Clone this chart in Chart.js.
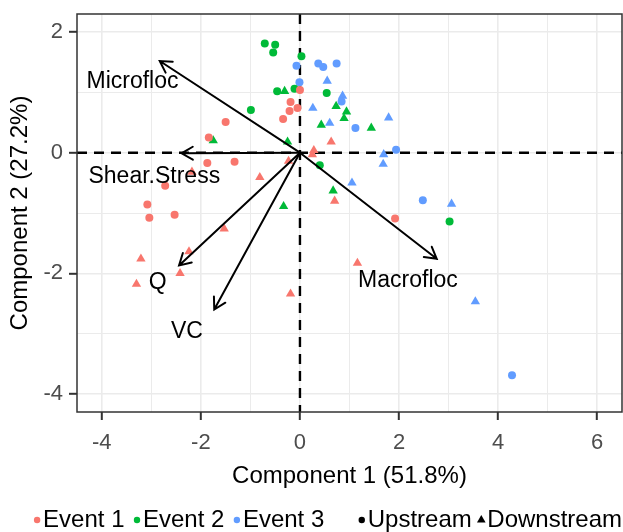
<!DOCTYPE html>
<html>
<head>
<meta charset="utf-8">
<title>PCA biplot</title>
<script src="https://cdn.jsdelivr.net/npm/chart.js@4.4.1/dist/chart.umd.min.js"></script>
<style>
  html, body { margin: 0; padding: 0; background: #fff; }
  canvas { display: block; }
</style>
</head>
<body>
<canvas id="biplot" width="623" height="532"></canvas>
<script>
// PCA scores [component 1, component 2] per event and sampling site
const event1Up = [
  [0.00, 1.04], [-0.19, 0.84], [-0.05, 0.74], [-0.21, 0.69], [-0.34, 0.56],
  [-1.50, 0.51], [-1.84, 0.25], [-1.87, -0.17], [-1.32, -0.15], [-2.72, -0.55],
  [-3.08, -0.86], [-3.04, -1.08], [-2.53, -1.03], [1.92, -1.09]
];
const event1Down = [
  [0.63, 0.18], [0.28, 0.04], [0.25, -0.03], [-0.23, -0.14], [-2.18, -0.32],
  [-0.81, -0.41], [0.70, -0.80], [1.16, -1.83], [-1.53, -1.26], [-2.24, -1.64],
  [-3.21, -1.76], [-2.42, -2.00], [-3.30, -2.18], [-0.19, -2.34]
];
const event2Up = [
  [-0.71, 1.81], [-0.50, 1.79], [-0.54, 1.66], [0.03, 1.60], [-0.46, 1.02],
  [-0.11, 1.06], [0.54, 0.99], [-0.99, 0.71], [0.40, -0.21], [3.02, -1.14]
];
const event2Down = [
  [-0.31, 1.02], [0.73, 0.77], [0.94, 0.68], [0.89, 0.57], [0.43, 0.46],
  [1.44, 0.41], [-1.75, 0.20], [-0.25, 0.18], [0.67, -0.63], [-0.33, -0.89]
];
const event3Up = [
  [-0.07, 1.44], [0.37, 1.48], [0.47, 1.42], [0.74, 1.48], [-0.01, 1.17],
  [0.84, 0.85], [1.12, 0.41], [1.94, 0.05], [2.48, -0.79], [4.28, -3.69]
];
const event3Down = [
  [0.55, 1.19], [0.86, 0.94], [0.26, 0.74], [0.60, 0.49], [1.79, 0.58],
  [1.69, -0.03], [1.68, -0.19], [1.05, -0.50], [3.06, -0.85], [3.54, -2.47]
];

// variable loadings: arrow tips and label anchors
const loadingNames = ['Microfloc', 'Shear.Stress', 'Q', 'VC', 'Macrofloc'];
const loadingTips = [[-2.83, 1.52], [-2.39, -0.01], [-2.44, -1.87], [-1.73, -2.60], [2.76, -1.76]];
const loadingLabels = [[-3.38, 1.17], [-2.94, -0.40], [-2.87, -2.16], [-2.28, -2.96], [2.18, -2.12]];

const xTicks = [-4, -2, 0, 2, 4, 6];
const yTicks = [-4, -2, 0, 2];
const xGrid = [-4, -3, -2, -1, 0, 1, 2, 3, 4, 5, 6];
const yGrid = [-4, -3, -2, -1, 0, 1, 2];
const eventNames = ['Event 1', 'Event 2', 'Event 3'];
const eventColors = ['#F8766D', '#00BA38', '#619CFF'];
const siteNames = ['Upstream', 'Downstream'];

const fontFamily = '"Liberation Sans", Arial, Helvetica, sans-serif';
Chart.defaults.font.family = fontFamily;

const groups = [
  { event: 0, site: 0, data: event1Up },
  { event: 0, site: 1, data: event1Down },
  { event: 1, site: 0, data: event2Up },
  { event: 1, site: 1, data: event2Down },
  { event: 2, site: 0, data: event3Up },
  { event: 2, site: 1, data: event3Down }
];

// dashed reference lines through the origin
const zeroLines = {
  id: 'zeroLines',
  beforeDatasetsDraw(chart) {
    const { ctx, chartArea, scales } = chart;
    const x0 = scales.x.getPixelForValue(0);
    const y0 = scales.y.getPixelForValue(0);
    ctx.save();
    ctx.strokeStyle = '#000';
    ctx.lineWidth = 2.4;
    ctx.setLineDash([10, 7]);
    ctx.beginPath();
    ctx.moveTo(chartArea.left, y0);
    ctx.lineTo(chartArea.right, y0);
    ctx.moveTo(x0, chartArea.top);
    ctx.lineTo(x0, chartArea.bottom);
    ctx.stroke();
    ctx.restore();
  }
};

// loading arrows with open heads, then the panel frame
const loadingArrows = {
  id: 'loadingArrows',
  afterDatasetsDraw(chart) {
    const { ctx, chartArea, scales } = chart;
    const px = v => scales.x.getPixelForValue(v);
    const py = v => scales.y.getPixelForValue(v);
    const ox = px(0), oy = py(0);
    const head = 13;
    ctx.save();
    ctx.strokeStyle = '#000';
    ctx.lineWidth = 2;
    ctx.lineCap = 'round';
    loadingTips.forEach(([tx, ty]) => {
      const ex = px(tx), ey = py(ty);
      const a = Math.atan2(ey - oy, ex - ox);
      ctx.beginPath();
      ctx.moveTo(ox, oy);
      ctx.lineTo(ex, ey);
      ctx.moveTo(ex + head * Math.cos(a + Math.PI - Math.PI / 6), ey + head * Math.sin(a + Math.PI - Math.PI / 6));
      ctx.lineTo(ex, ey);
      ctx.lineTo(ex + head * Math.cos(a + Math.PI + Math.PI / 6), ey + head * Math.sin(a + Math.PI + Math.PI / 6));
      ctx.stroke();
    });
    ctx.fillStyle = '#000';
    ctx.font = '23px ' + fontFamily;
    ctx.textAlign = 'center';
    ctx.textBaseline = 'middle';
    loadingLabels.forEach(([lx, ly], i) => {
      ctx.fillText(loadingNames[i], px(lx), py(ly));
    });
    ctx.strokeStyle = '#333';
    ctx.lineWidth = 1.5;
    ctx.strokeRect(chartArea.left, chartArea.top, chartArea.right - chartArea.left, chartArea.bottom - chartArea.top);
    ctx.restore();
  }
};

// single-row legend: colour by event, shape by site
const legendRow = {
  id: 'legendRow',
  afterDraw(chart) {
    const { ctx, chartArea } = chart;
    const items = eventNames.map((name, i) => ({ text: name, color: eventColors[i], shape: 'circle', gap: 9 }))
      .concat(siteNames.map((name, i) => ({
        text: name, color: '#000', shape: i === 0 ? 'circle' : 'triangle', gap: i === 0 ? 34 : 6
      })));
    ctx.save();
    ctx.font = '24px ' + fontFamily;
    ctx.textBaseline = 'middle';
    ctx.textAlign = 'left';
    const markerToText = 6;
    let total = 0;
    items.forEach((it, i) => {
      it.w = ctx.measureText(it.text).width;
      total += (i ? it.gap : 0) + 3.5 + markerToText + it.w;
    });
    let x = chartArea.right - total;
    const y = chart.height - 12;
    items.forEach((it, i) => {
      if (i) x += it.gap;
      const cx = x + 3.5;
      ctx.fillStyle = it.color;
      ctx.beginPath();
      if (it.shape === 'circle') {
        ctx.arc(cx, y, 3.2, 0, Math.PI * 2);
      } else {
        ctx.moveTo(cx, y - 5);
        ctx.lineTo(cx + 4.3, y + 2.5);
        ctx.lineTo(cx - 4.3, y + 2.5);
        ctx.closePath();
      }
      ctx.fill();
      ctx.fillStyle = '#000';
      ctx.fillText(it.text, cx + markerToText, y);
      x = cx + markerToText + it.w;
    });
    ctx.restore();
  }
};

const gridColor = '#EBEBEB';
const gridWidth = c => c.tick.value % 2 === 0 ? 1.6 : 1;

new Chart(document.getElementById('biplot'), {
  type: 'scatter',
  data: {
    datasets: groups.map(g => ({
      label: eventNames[g.event] + ' ' + siteNames[g.site],
      data: g.data.map(([x, y]) => ({ x, y })),
      backgroundColor: eventColors[g.event],
      borderColor: eventColors[g.event],
      borderWidth: 0,
      pointStyle: g.site === 0 ? 'circle' : 'triangle',
      pointRadius: g.site === 0 ? 4 : 5.4
    }))
  },
  options: {
    responsive: false,
    animation: false,
    events: [],
    layout: { autoPadding: false, padding: { top: 14, right: 1, left: 0, bottom: 41 } },
    plugins: {
      legend: { display: false },
      tooltip: { enabled: false }
    },
    scales: {
      x: {
        type: 'linear',
        min: -4.5,
        max: 6.5,
        afterBuildTicks: s => { s.ticks = xGrid.map(value => ({ value })); },
        afterFit: s => { s.height = 79; },
        ticks: {
          // taller line box pushes the labels down below the tick marks
          padding: 0,
          color: '#4D4D4D',
          font: { size: 22, lineHeight: 2.1 },
          maxRotation: 0,
          autoSkip: false,
          callback: v => xTicks.includes(v) ? String(v) : ''
        },
        grid: {
          color: gridColor,
          lineWidth: gridWidth,
          tickLength: 8,
          tickWidth: 2,
          tickColor: c => xTicks.includes(c.tick.value) ? '#333' : 'rgba(0,0,0,0)'
        },
        border: { display: false },
        title: {
          display: true,
          text: 'Component 1 (51.8%)',
          color: '#000',
          font: { size: 24 },
          padding: { top: 0, bottom: 0 }
        }
      },
      y: {
        type: 'linear',
        min: -4.3,
        max: 2.3,
        afterBuildTicks: s => { s.ticks = yGrid.map(value => ({ value })); },
        afterFit: s => { s.width = 77; s.paddingTop = 0; s.paddingBottom = 0; },
        ticks: {
          padding: 6,
          color: '#4D4D4D',
          font: { size: 22 },
          autoSkip: false,
          callback: v => yTicks.includes(v) ? String(v) : ''
        },
        grid: {
          color: gridColor,
          lineWidth: gridWidth,
          tickLength: 8,
          tickWidth: 2,
          tickColor: c => yTicks.includes(c.tick.value) ? '#333' : 'rgba(0,0,0,0)'
        },
        border: { display: false },
        title: {
          display: true,
          text: 'Component 2 (27.2%)',
          color: '#000',
          font: { size: 24 },
          padding: { top: 6, bottom: 0 }
        }
      }
    }
  },
  plugins: [zeroLines, loadingArrows, legendRow]
});
</script>
</body>
</html>
